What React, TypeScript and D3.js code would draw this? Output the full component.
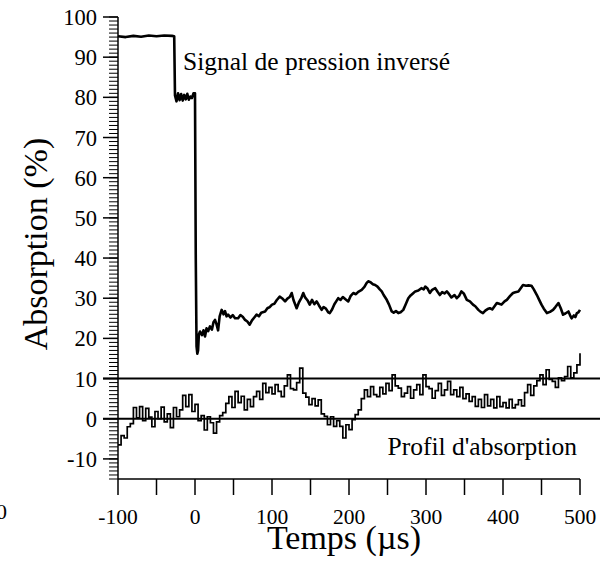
import React from "react";
import * as d3 from "d3";

const W = 604;
const H = 563;

const xTicks = [-100, 0, 100, 200, 300, 400, 500];
const xMinorTicks = [-100, -50, 0, 50, 100, 150, 200, 250, 300, 350, 400, 450, 500];
const yTicks = [-10, 0, 10, 20, 30, 40, 50, 60, 70, 80, 90, 100];
const refLines = [0, 10];

// Inverted pressure signal (time in µs, absorption in %)
const pressureT = [
  -100, -90, -80, -70, -60, -50, -40, -30, -27,
  -26, -24, -22, -20, -18, -16, -14, -12, -10, -8, -6, -4, -2, 0,
  1, 2, 3, 4, 5,
  6.5, 9, 11, 13, 15, 17, 19.5, 22, 24, 26, 28, 30, 32, 34.6, 37, 39, 41, 43, 46, 49, 52, 56, 59, 62, 65, 68,
  71, 74, 77, 80, 83, 86, 91, 94, 97, 100, 103, 106, 110, 113, 117, 120, 123, 125.6, 128, 132, 135, 138,
  140.6, 143, 146, 149, 152, 155, 158, 161, 164.5, 167, 170, 173, 175, 178, 181, 184, 186, 189, 192, 195,
  199, 202, 205.6, 209, 212, 216.5, 220, 223, 225, 228, 231, 234, 237, 240, 242.5, 245, 249, 252, 255.5,
  258, 261, 264, 267, 270.5, 273, 277, 280, 283, 286, 290, 294, 297, 299, 302, 305, 308, 312, 315, 318,
  321, 324, 327, 330, 333, 337, 340, 343, 346, 349, 353, 357, 361, 364, 368, 371, 374, 377, 380, 383,
  386, 389, 392, 395, 398, 402, 405, 409, 413, 416, 420, 423, 426, 430, 433, 437, 440, 444, 447, 450,
  453, 457, 461, 465, 468, 472, 475, 478, 481, 485, 487, 489, 492, 494, 496, 498, 500,
];
const pressureV = [
  95.2, 95.0, 95.3, 95.1, 95.4, 95.2, 95.4, 95.3, 95.2,
  80.5, 79.0, 81.0, 79.3, 80.8, 79.2, 80.6, 79.5, 80.9, 79.4, 80.2, 79.8, 81.0, 81.0,
  40.0, 18.0, 16.2, 17.0, 21.0,
  21.7, 20.8, 22.0, 20.5, 22.5, 21.8, 23.0, 22.2, 24.0, 24.6, 23.5, 22.0, 25.5, 27.1, 26.0, 26.8, 25.5, 25.9, 25.2, 25.8, 25.0, 25.0, 25.8, 25.4, 24.6, 24.2,
  23.4, 24.5, 25.2, 25.9, 25.5, 26.4, 26.7, 27.5, 27.8, 28.4, 28.6, 29.5, 30.4, 30.0, 29.2, 29.9, 30.3, 31.3, 29.5, 27.5, 29.0, 30.0,
  31.3, 30.2, 29.5, 28.4, 29.6, 28.5, 29.2, 28.2, 27.1, 27.8, 27.4, 26.5, 26.3, 27.2, 28.5, 29.4, 30.0, 29.6, 30.3, 29.8,
  29.2, 30.5, 31.3, 31.0, 31.6, 32.1, 32.8, 33.8, 34.2, 34.0, 33.5, 33.3, 32.9, 32.2, 31.7, 30.8, 29.6, 28.4, 26.7,
  26.4, 26.8, 26.3, 26.5, 27.1, 28.2, 30.0, 30.7, 31.2, 31.7, 31.9, 32.5, 32.2, 32.9, 32.4, 31.3, 32.1, 32.5, 31.6, 30.8,
  31.5, 31.2, 31.7, 31.0, 30.2, 30.8, 30.0, 30.6, 31.7, 31.2, 29.6, 29.2, 28.4, 28.0, 27.1, 26.6, 26.3, 26.9, 27.3, 27.5,
  27.2, 28.0, 28.8, 28.6, 28.4, 29.2, 29.6, 30.5, 31.3, 31.5, 31.7, 32.5, 33.3, 33.1, 33.2, 33.1, 32.2, 30.8, 29.6, 28.4,
  27.4, 26.3, 26.6, 27.1, 27.8, 28.8, 27.5, 25.9, 26.2, 26.7, 25.8, 25.0, 25.7, 25.3, 26.3, 26.5, 27.1,
];

// Absorption profile, sampled every 4 µs from -100 to 500
const profileT = d3.range(-100, 501, 4);
const profileV = [
  -6.5, -4.2, -4.8, -2.0, -1.2, 2.8, 0.2, 3.0, -0.5, 2.6, 0.4, -2.0, 1.8, 0.0, 2.9, -0.8, 1.2, -2.2, 2.8, 0.5,
  2.2, 5.8, 3.0, 6.0, 1.8, 3.6, -0.5, 0.8, -2.8, 0.5, -1.0, -3.6, -0.8, 0.8, 1.5, 3.8, 5.5, 2.8, 6.8, 4.0,
  5.6, 2.2, 4.8, 3.0, 5.5, 6.8, 4.8, 8.8, 6.5, 7.8, 6.2, 8.5, 6.8, 5.5, 8.2, 10.9, 7.5, 7.2, 9.0, 12.6,
  6.4, 5.4, 3.5, 5.0, 3.2, 4.7, 1.2, 0.6, -1.5, 0.5, -1.9, -0.5, -1.9, -4.8, -1.5, -2.7, -0.2, 1.0, 2.2, 5.0,
  7.2, 5.5, 8.0, 6.0, 5.5, 7.8, 6.2, 8.8, 7.0, 10.9, 8.2, 7.6, 5.5, 6.4, 8.0, 5.1, 7.2, 8.5, 6.0, 10.9,
  8.0, 7.5, 5.1, 7.0, 8.8, 5.8, 7.2, 9.3, 6.0, 7.2, 5.5, 7.8, 5.0, 6.2, 4.3, 5.5, 3.1, 4.8, 2.8, 6.0,
  3.2, 4.8, 2.7, 5.5, 3.0, 4.0, 2.7, 4.8, 2.7, 3.5, 4.7, 3.2, 6.5, 8.5, 5.8, 8.2, 9.5, 10.9, 8.5, 12.2,
  9.8, 9.3, 7.8, 10.2, 9.5, 10.5, 13.0, 10.2, 11.4, 13.4, 16.3,
];

const X0 = 118, X1 = 580, Y0 = 479, Y1 = 17;
const x = d3.scaleLinear().domain([-100, 500]).range([X0, X1]);
const y = d3.scaleLinear().domain([-15, 100]).range([Y0, Y1]);

const font = "'Liberation Serif', 'Times New Roman', serif";

export default function App() {
  const pressureLine = d3
    .line<number>()
    .x((_, i) => x(pressureT[i]))
    .y((v) => y(v))(pressureV) as string;
  const profileLine = d3
    .line<number>()
    .x((_, i) => x(profileT[i]))
    .y((v) => y(v))
    .curve(d3.curveStepAfter)(profileV) as string;
  const minorY = d3.range(-15, 101, 1);

  return (
    <div style={{ position: "absolute", left: 0, top: 0 }}>
      <svg width={W} height={H} style={{ display: "block", background: "#fff" }}>
        {/* reference lines */}
        {refLines.map((v) => (
          <line key={"r" + v} x1={103} x2={600} y1={y(v)} y2={y(v)} stroke="#000" strokeWidth={2} />
        ))}
        {/* y axis */}
        <line x1={X0} x2={X0} y1={Y1} y2={Y0} stroke="#000" strokeWidth={1.5} />
        {minorY.map((v) => (
          <line key={"m" + v} x1={X0 - 9} x2={X0} y1={y(v)} y2={y(v)} stroke="#000" strokeWidth={1} />
        ))}
        {yTicks.map((v) => (
          <g key={"y" + v}>
            <line x1={X0 - 15} x2={X0} y1={y(v)} y2={y(v)} stroke="#000" strokeWidth={1.5} />
            <text x={97} y={y(v) + 8} textAnchor="end" fontFamily={font} fontSize={22.5}>
              {v}
            </text>
          </g>
        ))}
        {/* x axis */}
        <line x1={X0} x2={X1} y1={Y0} y2={Y0} stroke="#000" strokeWidth={1.5} />
        {xMinorTicks.map((v) => (
          <line key={"xt" + v} x1={x(v)} x2={x(v)} y1={Y0} y2={Y0 + 16} stroke="#000" strokeWidth={1.5} />
        ))}
        {xTicks.map((v) => (
          <text key={"xl" + v} x={x(v)} y={524} textAnchor="middle" fontFamily={font} fontSize={21.5}>
            {v}
          </text>
        ))}
        {/* stray label at left edge */}
        <text x={7} y={519} textAnchor="end" fontFamily={font} fontSize={22}>0</text>
        {/* data */}
        <path d={pressureLine} fill="none" stroke="#000" strokeWidth={2.6} strokeLinejoin="round" />
        <path d={profileLine} fill="none" stroke="#000" strokeWidth={1.7} />
        {/* annotations */}
        <text x={183} y={70} fontFamily={font} fontSize={25.5}>Signal de pression inversé</text>
        <text x={577} y={455} textAnchor="end" fontFamily={font} fontSize={25.5}>Profil d'absorption</text>
        {/* axis titles */}
        <text
          transform="translate(47, 244) rotate(-90)"
          textAnchor="middle"
          fontFamily={font}
          fontSize={34}
        >
          Absorption (%)
        </text>
        <text x={344} y={549} textAnchor="middle" fontFamily={font} fontSize={34}>
          Temps (µs)
        </text>
      </svg>
    </div>
  );
}
